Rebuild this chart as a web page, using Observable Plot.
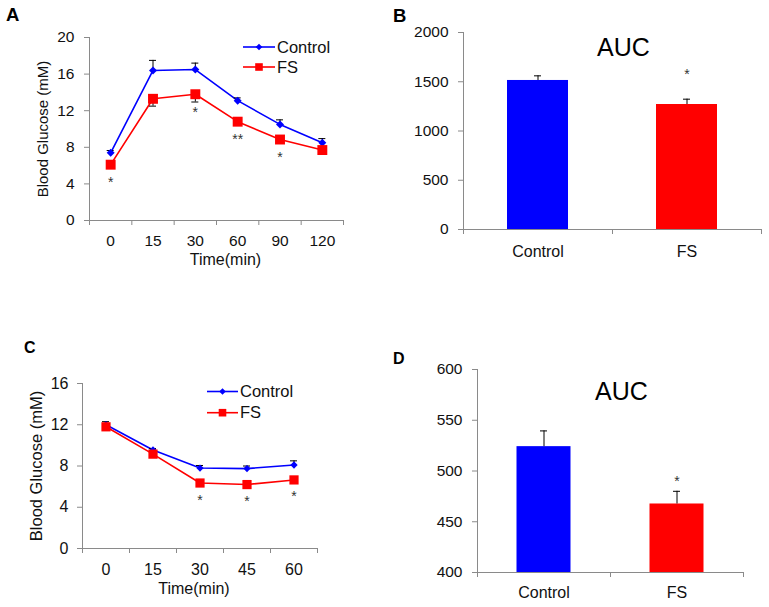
<!DOCTYPE html>
<html><head><meta charset="utf-8">
<script src="https://cdn.jsdelivr.net/npm/d3@7"></script>
<script src="https://cdn.jsdelivr.net/npm/@observablehq/plot@0.6"></script>
<style>
body{margin:0;background:#fff;}
#fig{position:relative;width:769px;height:607px;font-family:"Liberation Sans",Arial,sans-serif;overflow:hidden;}
.panel{position:absolute;}
.letter{position:absolute;font-weight:bold;line-height:1;color:#000;}
#legend{position:absolute;left:0;top:0;}
</style></head><body><div id="fig"></div>
<script>
// ---------- data ----------
const seriesNames = ["Control", "FS"];
const seriesColors = ["#0000ff", "#ff0000"];

// Panel A (glucose tolerance)
const timesA = ["0", "15", "30", "60", "90", "120"];
const ctrlA = [7.4, 16.4, 16.5, 13.1, 10.5, 8.5];
const ctrlErrA = [0.25, 1.1, 0.7, 0.3, 0.5, 0.45];
const fsA = [6.1, 13.3, 13.8, 10.8, 8.85, 7.7];
const fsErrA = [0.2, 0.8, 0.85, 0.3, 0.3, 0.3];
const starsA = ["*", "", "*", "**", "*", ""];
const yTicksA = [0, 4, 8, 12, 16, 20];

// Panel B (AUC)
const catsB = ["Control", "FS"];
const aucB = [1513, 1269];
const aucErrB = [47, 54];
const starsB = ["", "*"];
const yTicksB = [0, 500, 1000, 1500, 2000];

// Panel C (insulin tolerance)
const timesC = ["0", "15", "30", "45", "60"];
const ctrlC = [12.0, 9.55, 7.8, 7.75, 8.1];
const ctrlErrC = [0.3, 0.15, 0.25, 0.25, 0.4];
const fsC = [11.8, 9.15, 6.35, 6.2, 6.65];
const fsErrC = [0.3, 0.2, 0.2, 0.2, 0.2];
const starsC = ["", "", "*", "*", "*"];
const yTicksC = [0, 4, 8, 12, 16];

// Panel D (AUC)
const catsD = ["Control", "FS"];
const aucD = [524, 467.5];
const aucErrD = [15.5, 12.5];
const starsD = ["", "*"];
const yTicksD = [400, 450, 500, 550, 600];

// ---------- styling ----------
const GRAY = "#8a8a8a";
const TXT = "#111";
const FONT = "'Liberation Sans', Arial, sans-serif";
const fig = document.getElementById("fig");
const plain = d => String(d);

function place(node, left, top) {
  node.classList.add("panel");
  node.style.left = left + "px";
  node.style.top = top + "px";
  fig.appendChild(node);
}

function lineChart(c) {
  const rows = c.times.map((t, i) => ({
    i, t, ctrl: c.ctrl[i], ctrlErr: c.ctrlErr[i], fs: c.fs[i], fsErr: c.fsErr[i], star: c.stars[i]
  }));
  const n = c.times.length;
  const idx = d3.range(n);
  const bounds = d3.range(n + 1).map(k => k - 0.5);
  return Plot.plot({
    width: c.width, height: c.height,
    marginLeft: c.m[0], marginRight: c.m[1], marginTop: c.m[2], marginBottom: c.m[3],
    x: {type: "linear", domain: [-0.5, n - 0.5]},
    y: {type: "linear", domain: [c.yTicks[0], c.yTicks[c.yTicks.length - 1]]},
    style: {fontFamily: FONT, fontSize: "15px", color: TXT, background: "transparent", overflow: "visible"},
    marks: [
      Plot.ruleY([c.yTicks[0]], {stroke: GRAY, strokeWidth: 1}),
      Plot.ruleX([-0.5], {stroke: GRAY, strokeWidth: 1}),
      Plot.axisY({ticks: c.yTicks, tickSize: 5, tickPadding: c.yPad, tickFormat: plain, stroke: GRAY, fill: TXT,
        fontSize: c.tickFont, label: null}),
      Plot.text(["Blood Glucose (mM)"], {frameAnchor: "left", textAnchor: "middle", lineAnchor: "middle",
        rotate: -90, dx: c.labelDx, fontSize: c.labelFont, fill: TXT}),
      Plot.axisX(idx, {tickSize: 0, tickPadding: c.xPad, tickFormat: i => c.times[i], fill: TXT,
        fontSize: c.tickFont, label: null}),
      Plot.axisX(bounds, {tickSize: 5, tickFormat: () => "", stroke: GRAY, label: null}),
      Plot.text(["Time(min)"], {frameAnchor: "bottom", lineAnchor: "top", dx: c.titleDx, dy: c.titleDy,
        fontSize: 16, fill: TXT}),
      Plot.line(rows, {x: "i", y: "ctrl", stroke: seriesColors[0], strokeWidth: 1.6}),
      Plot.line(rows, {x: "i", y: "fs", stroke: seriesColors[1], strokeWidth: 1.6}),
      // error bars: Control upward, FS downward
      Plot.ruleX(rows, {x: "i", y1: "ctrl", y2: d => d.ctrl + d.ctrlErr, stroke: "#000", strokeWidth: 1}),
      Plot.ruleY(rows, {x1: "i", x2: "i", y: d => d.ctrl + d.ctrlErr, insetLeft: -3.5, insetRight: -3.5, stroke: "#000", strokeWidth: 1}),
      Plot.ruleX(rows, {x: "i", y1: "fs", y2: d => d.fs - d.fsErr, stroke: "#000", strokeWidth: 1}),
      Plot.ruleY(rows, {x1: "i", x2: "i", y: d => d.fs - d.fsErr, insetLeft: -3.5, insetRight: -3.5, stroke: "#000", strokeWidth: 1}),
      Plot.dot(rows, {x: "i", y: "ctrl", symbol: "diamond2", r: c.diamondR, fill: seriesColors[0], stroke: "none"}),
      Plot.dot(rows, {x: "i", y: "fs", symbol: "square", r: c.squareR, fill: seriesColors[1], stroke: "none"}),
      Plot.text(rows.filter(d => d.star), {x: "i", y: "fs", text: "star", dy: c.starDy, fontSize: 14, fill: "#333"})
    ]
  });
}

function barChart(c) {
  const rows = c.cats.map((k, i) => ({i, k, v: c.vals[i], e: c.errs[i], star: c.stars[i]}));
  const n = c.cats.length;
  const yMin = c.yTicks[0];
  return Plot.plot({
    width: c.width, height: c.height,
    marginLeft: c.m[0], marginRight: c.m[1], marginTop: c.m[2], marginBottom: c.m[3],
    x: {type: "linear", domain: [-0.5, n - 0.5]},
    y: {type: "linear", domain: [yMin, c.yTicks[c.yTicks.length - 1]]},
    color: {domain: seriesNames, range: seriesColors},
    style: {fontFamily: FONT, fontSize: "15px", color: TXT, background: "transparent", overflow: "visible"},
    marks: [
      Plot.rectY(rows, {x1: d => d.i - 0.5, x2: d => d.i + 0.5, y1: () => yMin, y2: "v", fill: "k",
        insetLeft: c.inset, insetRight: c.inset}),
      Plot.ruleY([yMin], {stroke: GRAY, strokeWidth: 1}),
      Plot.ruleX([-0.5], {stroke: GRAY, strokeWidth: 1}),
      Plot.axisY({ticks: c.yTicks, tickSize: 5, tickPadding: c.yPad, tickFormat: plain, stroke: GRAY, fill: TXT,
        fontSize: 15.5, label: null}),
      Plot.axisX(d3.range(n), {tickSize: 0, tickPadding: c.xPad, tickFormat: i => c.cats[i], fill: TXT,
        fontSize: 16, label: null}),
      Plot.axisX(d3.range(n + 1).map(k => k - 0.5), {tickSize: 5, tickFormat: () => "", stroke: GRAY, label: null}),
      Plot.ruleX(rows, {x: "i", y1: "v", y2: d => d.v + d.e, stroke: "#000", strokeWidth: 1}),
      Plot.ruleY(rows, {x1: "i", x2: "i", y: d => d.v + d.e, insetLeft: -3.5, insetRight: -3.5, stroke: "#000", strokeWidth: 1}),
      Plot.text(rows.filter(d => d.star), {x: "i", y: d => d.v + d.e, text: "star", dy: c.starDy, fontSize: 14, fill: "#333"}),
      Plot.text(["AUC"], {frameAnchor: "top", dx: c.titleDx, dy: c.titleDy, fontSize: 25, fill: "#000"})
    ]
  });
}

place(lineChart({
  times: timesA, ctrl: ctrlA, ctrlErr: ctrlErrA, fs: fsA, fsErr: fsErrA, stars: starsA, yTicks: yTicksA,
  width: 380, height: 280, m: [89, 37, 37, 60], yPad: 10, xPad: 14, tickFont: 15.5,
  labelDx: -46, labelFont: 15, titleDx: 9, titleDy: 33, diamondR: 3.6, squareR: 5.6, starDy: 18
}), 0, 0);

place(barChart({
  cats: catsB, vals: aucB, errs: aucErrB, stars: starsB, yTicks: yTicksB,
  width: 389, height: 280, m: [83, 8, 32, 51], yPad: 10, xPad: 16, inset: 44,
  starDy: -25, titleDx: 11, titleDy: 6
}), 380, 0);

place(lineChart({
  times: timesC, ctrl: ctrlC, ctrlErr: ctrlErrC, fs: fsC, fsErr: fsErrC, stars: starsC, yTicks: yTicksC,
  width: 380, height: 307, m: [82, 63, 83, 59], yPad: 9, xPad: 15, tickFont: 16,
  labelDx: -46, labelFont: 16.5, titleDx: -6, titleDy: 34, diamondR: 3.3, squareR: 5.2, starDy: 17
}), 0, 300);

place(barChart({
  cats: catsD, vals: aucD, errs: aucErrD, stars: starsD, yTicks: yTicksD,
  width: 389, height: 307, m: [97, 26, 69, 35], yPad: 10, xPad: 14, inset: 39.5,
  starDy: -10, titleDx: 11, titleDy: 13
}), 380, 300);

// ---------- legends ----------
const ns = "http://www.w3.org/2000/svg";
const leg = document.createElementNS(ns, "svg");
leg.setAttribute("id", "legend");
leg.setAttribute("width", 769);
leg.setAttribute("height", 607);
function legendBlock(x0, x1, tx, rows) {
  rows.forEach((ry, k) => {
    const color = seriesColors[k];
    const line = document.createElementNS(ns, "line");
    line.setAttribute("x1", x0); line.setAttribute("x2", x1);
    line.setAttribute("y1", ry); line.setAttribute("y2", ry);
    line.setAttribute("stroke", color); line.setAttribute("stroke-width", 1.6);
    leg.appendChild(line);
    const cx = (x0 + x1) / 2;
    const mk = document.createElementNS(ns, "path");
    if (k === 0) {
      const r = 3.3;
      mk.setAttribute("d", `M${cx},${ry - r}L${cx + r},${ry}L${cx},${ry + r}L${cx - r},${ry}Z`);
    } else {
      const s = 3.8;
      mk.setAttribute("d", `M${cx - s},${ry - s}H${cx + s}V${ry + s}H${cx - s}Z`);
    }
    mk.setAttribute("fill", color);
    leg.appendChild(mk);
    const t = document.createElementNS(ns, "text");
    t.setAttribute("x", tx); t.setAttribute("y", ry + 5.7);
    t.setAttribute("font-family", FONT); t.setAttribute("font-size", 16.5);
    t.setAttribute("fill", TXT);
    t.textContent = seriesNames[k];
    leg.appendChild(t);
  });
}
legendBlock(243, 275, 277, [47, 67]);
legendBlock(207, 238, 240, [391.5, 412.7]);
fig.appendChild(leg);

// ---------- panel letters ----------
[["A", 6, 5.5, 18.5], ["B", 393, 6.5, 18.5], ["C", 24, 339.5, 16], ["D", 393, 351, 16]].forEach(([s, x, y, f]) => {
  const d = document.createElement("div");
  d.className = "letter";
  d.textContent = s;
  d.style.left = x + "px"; d.style.top = y + "px"; d.style.fontSize = f + "px";
  fig.appendChild(d);
});
</script>
</body></html>
